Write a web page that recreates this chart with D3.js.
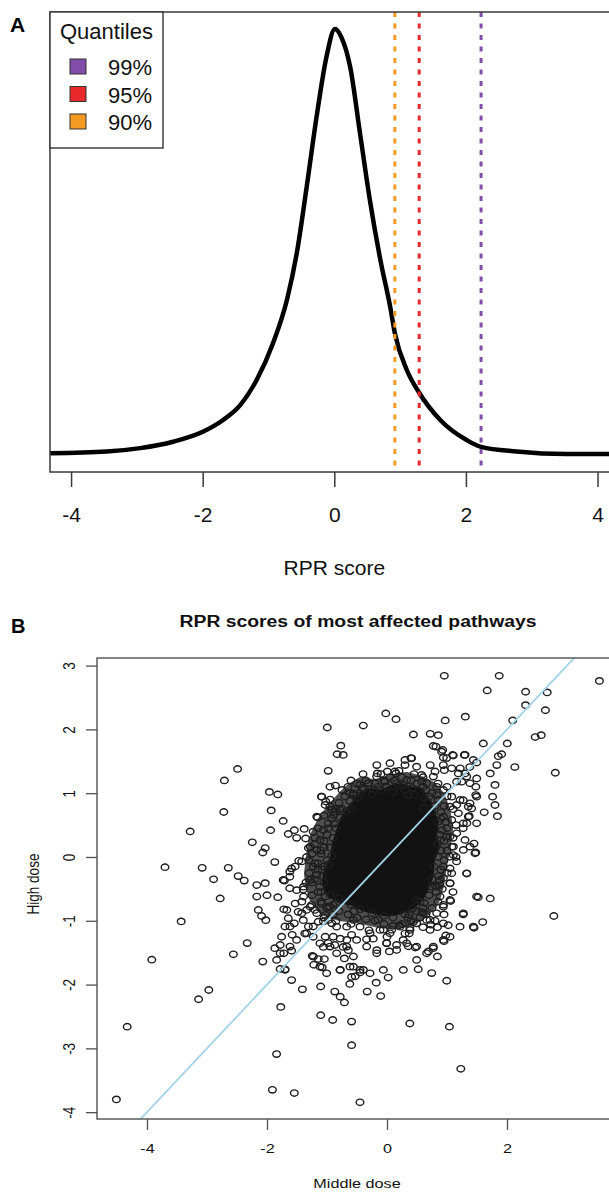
<!DOCTYPE html>
<html>
<head>
<meta charset="utf-8">
<script src="https://cdn.jsdelivr.net/npm/d3@7"></script>
<style>
  body { margin: 0; background: #fff; }
  svg { display: block; font-family: "Liberation Sans", Arial, Helvetica, sans-serif; }
</style>
</head>
<body>
<div id="chart"></div>
<script>
// ---------- panel A data: density of RPR score (relative height)
var densityX = [-4.32, -3.46, -2.95, -2.45, -1.99, -1.69, -1.43, -1.18, -0.93, -0.72, -0.57, -0.42,
  -0.27, -0.12, 0.01, 0.11, 0.24, 0.39, 0.54, 0.70, 0.85, 0.92, 1.10, 1.29, 1.61, 2.01, 2.23, 2.77, 3.53, 4.32];
var densityY = [0.004, 0.008, 0.016, 0.031, 0.055, 0.082, 0.117, 0.176, 0.263, 0.364, 0.474, 0.629,
  0.793, 0.934, 1.0, 0.98, 0.912, 0.756, 0.599, 0.458, 0.347, 0.286, 0.200, 0.146, 0.082, 0.035, 0.019, 0.008, 0.002, 0.002];

var quantileLabels = ["99%", "95%", "90%"];
var quantileValues = [2.23, 1.29, 0.92];
var quantileColors = ["#814da9", "#e8292c", "#f59a23"];
var xTicksA = [-4, -2, 0, 2, 4];

// ---------- panel B data: middle dose (x) vs high dose (y)
var xTicksB = [-4, -2, 0, 2];
var yTicksB = [-4, -3, -2, -1, 0, 1, 2, 3];
var diagonal = [[-5, -5], [4, 4]];

// outline of the crowded zone, where circles overlap heavily
var crowdedZone = [[-1.3, 0.3], [-1.15, 0.6], [-0.95, 0.85], [-0.7, 1.1], [-0.45, 1.25], [-0.2, 1.22], [0.1, 1.3],
  [0.35, 1.33], [0.6, 1.26], [0.8, 1.16], [0.95, 1.0], [1.05, 0.75], [1.1, 0.45], [1.06, 0.15], [1.0, -0.15],
  [0.95, -0.45], [0.85, -0.75], [0.65, -0.95], [0.4, -1.08], [0.1, -1.13], [-0.2, -1.1], [-0.5, -1.04],
  [-0.8, -1.0], [-1.1, -0.9], [-1.3, -0.65], [-1.38, -0.3], [-1.35, 0.0]];

// outline of the solid, fully overplotted centre
var denseCore = [[-0.6, 0.85], [-0.45, 1.0], [-0.3, 1.08], [-0.12, 1.05], [0.05, 1.12], [0.25, 1.15], [0.42, 1.1],
  [0.58, 1.08], [0.7, 0.92], [0.78, 0.75], [0.86, 0.55], [0.84, 0.35], [0.88, 0.15], [0.8, -0.05], [0.78, -0.28],
  [0.7, -0.5], [0.58, -0.7], [0.42, -0.82], [0.22, -0.9], [0.02, -0.93], [-0.18, -0.9], [-0.4, -0.85], [-0.6, -0.76],
  [-0.8, -0.72], [-1.0, -0.6], [-1.08, -0.4], [-1.05, -0.2], [-0.95, 0.0], [-0.92, 0.2], [-0.86, 0.38], [-0.78, 0.6],
  [-0.7, 0.72]];

var pointsLeftTop = [[-0.995, 2.03], [-0.77, 1.745], [-0.83, 1.61], [-0.73, 1.60], [-0.98, 1.35], [-2.49, 1.38],
  [-2.71, 1.20], [-0.95, 1.10], [-0.86, 1.12], [-1.96, 1.02], [-1.82, 0.98], [-0.56, 0.97], [-1.09, 0.945],
  [-1.02, 0.87], [-0.95, 0.79], [-0.87, 0.71], [-0.76, 0.76], [-0.60, 0.75], [-2.72, 0.705], [-1.93, 0.73],
  [-1.155, 0.62], [-1.73, 0.565], [-3.28, 0.40], [-1.94, 0.42], [-1.645, 0.36], [-1.545, 0.42], [-1.505, 0.30],
  [-1.38, 0.44], [-1.355, 0.29], [-2.245, 0.23], [-2.03, 0.14], [-2.07, 0.07], [-1.87, -0.08], [-3.70, -0.16],
  [-3.08, -0.17], [-2.645, -0.17], [-2.89, -0.35], [-2.48, -0.30], [-2.38, -0.37], [-2.17, -0.44], [-2.03, -0.41],
  [-1.71, -0.37], [-1.62, -0.31], [-1.59, -0.18], [-1.47, -0.06], [-1.505, -0.52], [-1.395, -0.51], [-1.31, 0.14],
  [-1.25, 0.05], [-1.2, -0.1], [-1.15, -0.2], [-1.3, -0.25], [-1.25, -0.4], [-1.1, 0.1], [-1.05, 0.25], [-1.2, 0.3]];

var pointsLeftBottom = [[-2.78, -0.65], [-2.17, -0.62], [-2.0, -0.60], [-1.82, -0.63], [-2.145, -0.83], [-2.09, -0.925],
  [-2.02, -0.99], [-3.43, -1.01], [-1.72, -0.82], [-1.645, -0.96], [-1.545, -1.04], [-1.70, -1.09], [-1.58, -1.22],
  [-2.33, -1.35], [-2.56, -1.525], [-3.92, -1.61], [-2.07, -1.64], [-1.87, -1.43], [-1.78, -1.38], [-1.72, -1.51],
  [-1.59, -1.47], [-1.78, -1.755], [-1.70, -1.76], [-1.59, -1.93], [-1.41, -2.075], [-2.97, -2.085], [-3.14, -2.23],
  [-1.77, -2.35], [-4.33, -2.66], [-1.105, -2.48], [-0.905, -2.555], [-1.105, -2.03], [-0.87, -2.11], [-0.78, -2.19],
  [-0.71, -2.28], [-0.62, -1.99], [-0.78, -1.77], [-0.59, -2.58], [-0.59, -2.95], [-1.84, -3.09], [-1.91, -3.65],
  [-1.545, -3.70], [-4.51, -3.80], [-1.245, -1.55], [-1.145, -1.60], [-1.08, -1.73], [-1.22, -1.69], [-1.045, -1.60],
  [-0.71, -1.59], [-0.56, -1.72], [-1.42, -0.70], [-1.34, -0.83], [-1.255, -0.75], [-1.48, -0.86], [-1.395, -0.99],
  [-1.31, -1.09], [-1.37, -1.20], [-1.23, -1.25], [-1.145, -1.015], [-1.03, -0.91], [-0.92, -1.04], [-1.03, -1.25],
  [-0.895, -1.25], [-0.78, -1.28], [-0.67, -1.30], [-0.59, -1.22], [-0.87, -1.38], [-0.98, -1.35], [-1.06, -1.41],
  [-0.73, -1.41], [-0.645, -1.46], [-1.2, -0.83], [-1.09, -0.73], [-0.98, -0.78], [-0.56, -1.56], [-0.59, -1.88]];

var pointsRightBottom = [[1.52, -0.63], [1.72, -0.65], [2.78, -0.925], [1.27, -0.90], [1.595, -1.02], [1.45, -1.11],
  [0.94, -0.75], [1.06, -0.69], [1.02, -1.07], [0.98, -1.23], [0.95, -1.32], [0.84, -1.10], [0.73, -1.06], [0.77, -1.43],
  [0.84, -1.56], [0.69, -1.48], [0.47, -1.42], [0.355, -1.40], [0.27, -1.30], [0.37, -1.20], [0.52, -1.76], [0.745, -1.82],
  [0.995, -1.94], [0.02, -1.89], [-0.18, -1.97], [-0.33, -2.11], [-0.105, -2.18], [-0.395, -1.77], [-0.45, -1.81],
  [-0.53, -1.87], [0.38, -2.61], [1.04, -2.66], [1.23, -3.32], [-0.45, -3.845], [-0.17, -1.46], [0.04, -1.48],
  [0.16, -1.38], [-0.005, -1.35], [-0.34, -1.29], [-0.23, -1.28], [-0.06, -1.14], [0.08, -1.14], [0.205, -1.07],
  [0.38, -1.11], [0.44, -1.02], [0.37, -0.91], [0.43, -0.805], [0.58, -0.86], [0.62, -0.72], [0.495, -0.675]];

var pointsRightTop = [[0.955, 2.84], [1.87, 2.84], [3.54, 2.76], [1.67, 2.61], [2.31, 2.59], [2.67, 2.58], [2.31, 2.38],
  [2.64, 2.30], [-0.02, 2.25], [0.15, 2.16], [-0.395, 2.06], [0.97, 2.14], [1.305, 2.20], [2.095, 2.14], [0.44, 1.92],
  [0.72, 1.93], [0.855, 1.91], [2.47, 1.88], [2.57, 1.91], [1.605, 1.78], [2.005, 1.78], [0.815, 1.73], [0.91, 1.65],
  [1.855, 1.58], [1.91, 1.61], [2.13, 1.41], [2.805, 1.32], [1.3, 1.60], [1.105, 1.59], [0.995, 1.55], [1.72, 1.31],
  [1.83, 1.44], [1.495, 1.48], [1.38, 1.41], [1.495, 1.23], [1.30, 1.31], [1.8, 1.13], [1.76, 0.945], [1.8, 0.815],
  [1.62, 0.70], [1.84, 0.64], [1.48, 0.97], [1.48, 1.10], [1.41, 0.76], [1.37, 0.64], [1.33, 0.53], [1.27, 0.45],
  [1.45, 0.21], [1.48, 0.07], [1.33, -0.26], [1.05, 0.32], [1.08, 0.16], [1.105, 0.03], [1.16, -0.07], [1.05, -0.18],
  [0.88, -0.44], [1.05, -0.41], [0.745, -0.465], [0.94, -0.33], [-0.17, 1.44], [-0.16, 1.31], [0.05, 1.47], [0.13, 1.34],
  [0.3, 1.44], [0.40, 1.55], [-0.31, 1.155], [-0.395, 1.075], [-0.55, 0.97], [0.72, 1.44], [0.8, 1.34], [0.955, 1.36],
  [1.22, 1.39], [1.16, 1.18], [1.0, 1.10], [0.58, 1.18], [0.27, 1.13], [-0.005, 1.10], [0.355, 0.97], [0.83, 0.97],
  [1.27, 0.89], [1.16, 0.815], [1.355, 0.79], [0.605, 0.76]];

// the crowded ring just outside the solid centre
var pointsRing = [[-1.28, 0.16], [-1.17, 0.11], [-1.34, 0.0], [-1.42, -0.07], [-1.53, -0.15], [-1.62, -0.23],
  [-1.73, -0.36], [-1.62, -0.49], [-1.39, -0.465], [-1.28, -0.36], [-1.17, -0.28], [-1.12, -0.465], [-1.39, -0.62],
  [-1.53, -0.73], [-1.67, -0.83], [-1.42, -0.88], [-1.28, -0.78], [-1.17, -0.88], [-1.06, -1.01], [-1.23, -1.09],
  [-1.34, -1.196], [-1.506, -1.30], [-1.617, -1.405], [-1.78, -1.51], [-1.117, 0.267], [-1.06, 0.423], [-1.23, 0.397],
  [-0.978, 0.528], [-0.894, 0.658], [-1.03, 0.815], [-1.17, 0.632], [-1.09, 0.946], [-0.783, 0.737], [-0.922, 0.737],
  [-1.23, -0.15], [-1.06, -0.15], [-1.03, -0.62], [-0.95, -0.78],
  [-0.561, 0.998], [-0.45, 0.956], [-0.311, 1.155], [-0.228, 1.05], [-0.45, 1.13], [0.15, 1.31], [0.006, 1.34],
  [0.30, 1.52], [0.41, 1.547], [0.494, 1.416], [0.578, 1.285], [0.328, 1.207], [0.161, 1.155], [-0.033, 1.18],
  [-0.172, 1.26], [0.661, 1.155], [0.772, 1.26], [0.828, 1.10], [0.939, 1.44], [1.078, 1.39], [0.939, 1.56],
  [1.094, 1.599], [1.289, 1.599], [0.772, 1.74], [0.928, 1.677], [1.189, 1.31], [1.328, 1.26], [1.383, 1.155],
  [1.244, 1.18], [1.439, 1.52],
  [0.939, 1.05], [1.078, 0.946], [1.217, 0.894], [1.383, 0.841], [1.494, 0.946], [1.05, 0.789], [1.189, 0.685],
  [1.356, 0.632], [1.494, 0.528], [1.272, 0.528], [1.078, 0.58], [0.939, 0.632], [0.883, 0.267], [0.994, 0.319],
  [1.161, 0.371], [1.30, 0.267], [1.383, 0.162], [1.467, 0.058], [1.272, 0.11], [1.106, 0.162], [1.05, 0.005],
  [0.939, -0.151], [1.078, -0.256], [1.328, -0.256], [0.883, -0.36], [0.828, -0.465], [1.05, -0.413], [0.883, -0.62],
  [1.05, -0.674], [0.939, -0.78], [1.272, -0.883], [1.439, -1.092], [1.217, -1.092], [1.05, -1.25], [0.828, -0.883],
  [0.717, -0.987], [1.494, -0.62],
  [-0.978, -0.987], [-0.839, -1.092], [-0.672, -1.092], [-0.561, -0.987], [-0.45, -1.092], [-0.283, -1.196],
  [-0.117, -1.144], [0.05, -1.196], [0.217, -1.092], [0.383, -1.144], [0.494, -1.04], [0.661, -0.987], [0.717, -1.144],
  [0.939, -1.04], [0.939, -1.30], [0.772, -1.405], [0.661, -1.51], [0.494, -1.405], [0.328, -1.353], [0.161, -1.457],
  [-0.006, -1.353], [-0.172, -1.51], [-0.339, -1.405], [-0.506, -1.30], [-0.672, -1.405], [-0.839, -1.51],
  [-0.95, -1.405], [-1.117, -1.353], [-1.228, -1.562], [-1.117, -1.719], [-1.006, -1.823], [-0.783, -1.771],
  [-0.617, -1.719], [-0.45, -1.771], [-0.283, -1.823], [-0.061, -1.771], [0.272, -1.771], [0.494, -1.614],
  [-1.70, -1.77], [-1.839, -1.614], [-1.617, -1.09], [-1.756, -1.25]];

// circles sitting on the edge of the solid centre
var pointsCoreEdge = [[-0.62, 0.88], [-0.45, 1.0], [-0.25, 0.98], [-0.1, 1.05], [0.1, 1.02], [0.3, 1.05], [0.45, 0.98],
  [0.62, 0.92], [0.75, 0.7], [0.85, 0.55], [0.88, 0.35], [0.84, 0.2], [0.85, 0.0], [0.78, -0.15], [0.75, -0.35],
  [0.7, -0.6], [0.55, -0.7], [0.5, -0.85], [0.3, -0.9], [0.1, -0.95], [-0.05, -0.92], [-0.25, -0.88], [-0.45, -0.82],
  [-0.6, -0.75], [-0.8, -0.65], [-0.95, -0.6], [-1.05, -0.4], [-1.08, -0.2], [-1.0, -0.05], [-0.95, 0.15], [-0.9, 0.3],
  [-0.85, 0.45], [-0.78, 0.62], [-0.68, 0.72], [-0.5, 0.92], [0.6, 1.1], [0.7, 0.95], [0.92, 0.42], [0.9, 0.1],
  [-1.1, -0.55], [-0.9, -0.75], [0.6, -0.8], [0.8, -0.45]];

// thick halo of overlapping circles around the centre
var pointsHalo = [[-0.7, 0.95], [-0.8, 0.85], [-0.65, 1.1], [-0.5, 1.15], [-0.35, 1.2], [-0.2, 1.15], [-0.05, 1.2],
  [0.12, 1.2], [0.25, 1.25], [0.4, 1.2], [0.5, 1.15], [0.65, 1.05], [0.75, 1.0], [0.85, 0.9], [0.95, 0.8], [0.9, 0.7],
  [0.98, 0.55], [1.0, 0.45], [0.95, 0.25], [1.0, 0.1], [0.95, -0.05], [0.9, -0.2], [0.92, -0.5], [0.85, -0.7],
  [0.75, -0.8], [0.65, -0.9], [0.55, -0.95], [0.4, -1.0], [0.25, -1.05], [0.1, -1.08], [-0.05, -1.05], [-0.2, -1.0],
  [-0.35, -0.98], [-0.5, -0.95], [-0.65, -0.9], [-0.8, -0.85], [-0.9, -0.9], [-1.0, -0.8], [-1.1, -0.7], [-1.15, -0.55],
  [-1.2, -0.35], [-1.15, -0.1], [-1.1, 0.05], [-1.05, 0.15], [-1.0, 0.35], [-0.98, 0.45], [-0.92, 0.6], [-0.85, 0.75],
  [-0.75, 1.05], [-0.6, 1.2], [-0.4, 1.3], [-0.1, 1.3], [0.05, 1.25], [0.2, 1.35], [0.45, 1.3], [0.6, 1.25],
  [0.85, 1.15], [1.0, 0.95], [1.1, 0.75], [1.15, 0.5], [1.1, 0.3], [1.15, 0.0], [1.0, -0.25], [1.1, -0.55],
  [0.95, -0.9], [0.8, -1.0], [0.6, -1.1], [0.3, -1.2], [0.0, -1.25], [-0.3, -1.15], [-0.6, -1.05], [-0.85, -1.0],
  [-1.05, -0.95], [-1.25, -0.6], [-1.35, -0.4], [-1.3, -0.05], [-1.2, 0.2], [-1.15, 0.45], [-1.05, 0.65], [-0.95, 0.9],
  [-0.62, 1.0], [-0.42, 1.08], [-0.15, 1.1], [0.2, 1.12], [0.42, 1.08], [0.68, 0.85], [0.8, 0.8], [0.9, 0.6],
  [0.86, -0.3], [0.82, -0.55], [0.6, -0.88], [0.35, -0.95], [-0.15, -0.98], [-0.55, -0.85], [-0.85, -0.72],
  [-1.07, -0.3], [-0.98, -0.12], [-0.92, 0.02], [-0.88, 0.52]];

var W = 609, H = 1192;
var fmt = function(d) { return String(d); };   // plain hyphen minus like R

var svg = d3.select("#chart").append("svg")
  .attr("width", W)
  .attr("height", H);

// =============== Panel A ===============
var boxA = {left: 50, top: 12, right: 618.6, bottom: 472};
var xA = d3.scaleLinear().domain([-4.32, 4.32]).range([boxA.left, boxA.right]);
var yA = d3.scaleLinear().domain([-0.04, 1.04]).range([boxA.bottom, boxA.top]);

svg.append("clipPath").attr("id", "clipA")
  .append("rect")
    .attr("x", boxA.left).attr("y", boxA.top)
    .attr("width", boxA.right - boxA.left).attr("height", boxA.bottom - boxA.top);

var gA = svg.append("g").attr("clip-path", "url(#clipA)");

var densityPts = densityX.map(function(d, i) { return [d, densityY[i]]; });
gA.append("path")
  .datum(densityPts)
  .attr("fill", "none")
  .attr("stroke", "#000")
  .attr("stroke-width", 4.5)
  .attr("stroke-linejoin", "round")
  .attr("d", d3.line()
    .x(function(d) { return xA(d[0]); })
    .y(function(d) { return yA(d[1]); })
    .curve(d3.curveMonotoneX));

// quantile lines
gA.selectAll(".qline")
  .data(quantileValues)
  .enter().append("line")
    .attr("x1", function(d) { return xA(d); })
    .attr("x2", function(d) { return xA(d); })
    .attr("y1", yA(1.04))
    .attr("y2", yA(-0.04))
    .attr("stroke", function(d, i) { return quantileColors[i]; })
    .attr("stroke-width", 3)
    .attr("stroke-dasharray", "5,6.5");

// box
svg.append("rect")
  .attr("x", boxA.left).attr("y", boxA.top)
  .attr("width", boxA.right - boxA.left).attr("height", boxA.bottom - boxA.top)
  .attr("fill", "none").attr("stroke", "#3a3a3a").attr("stroke-width", 1.5);

// x axis
var axA = svg.append("g")
  .attr("transform", "translate(0," + boxA.bottom + ")")
  .call(d3.axisBottom(xA).tickValues(xTicksA).tickFormat(fmt).tickSize(15).tickPadding(20));
axA.select(".domain").remove();
axA.selectAll(".tick line").attr("stroke", "#3a3a3a").attr("stroke-width", 1.5);
axA.selectAll(".tick text")
  .attr("font-size", 21).attr("fill", "#111")
  .attr("font-family", "'Liberation Sans', Arial, sans-serif");

svg.append("text")
  .attr("x", (boxA.left + boxA.right) / 2).attr("y", 575)
  .attr("text-anchor", "middle").attr("font-size", 21).attr("fill", "#111")
  .text("RPR score");

svg.append("text")
  .attr("x", 10).attr("y", 32)
  .attr("font-size", 21).attr("font-weight", "bold")
  .text("A");

// legend
var leg = svg.append("g");
leg.append("rect")
  .attr("x", 50).attr("y", 12).attr("width", 113).attr("height", 136)
  .attr("fill", "#fff").attr("stroke", "#333").attr("stroke-width", 1.4);
leg.append("text")
  .attr("x", 60).attr("y", 39).attr("font-size", 22).attr("fill", "#111")
  .text("Quantiles");
var legRow = leg.selectAll(".row")
  .data(quantileLabels)
  .enter().append("g")
    .attr("transform", function(d, i) { return "translate(0," + (i * 27.5) + ")"; });
legRow.append("rect")
  .attr("x", 70).attr("y", 59).attr("width", 16).attr("height", 15)
  .attr("fill", function(d, i) { return quantileColors[i]; })
  .attr("stroke", "#333").attr("stroke-width", 1);
legRow.append("text")
  .attr("x", 108).attr("y", 75).attr("font-size", 22).attr("fill", "#111")
  .text(function(d) { return d; });

// =============== Panel B ===============
var boxB = {left: 97, top: 658, right: 623, bottom: 1119};
var xB = d3.scaleLinear().domain([-4.833, 3.933]).range([boxB.left, boxB.right]);
var yB = d3.scaleLinear().domain([-4.107, 3.119]).range([boxB.bottom, boxB.top]);
var stretch = "scale(1.2,1)";   // the figure is widened a bit horizontally

svg.append("clipPath").attr("id", "clipB")
  .append("rect")
    .attr("x", boxB.left).attr("y", boxB.top)
    .attr("width", boxB.right - boxB.left).attr("height", boxB.bottom - boxB.top);

var gB = svg.append("g").attr("clip-path", "url(#clipB)");

var areaLine = d3.line()
  .x(function(d) { return xB(d[0]); })
  .y(function(d) { return yB(d[1]); })
  .curve(d3.curveCardinalClosed.tension(0.4));

// crowded zone and solid centre of overplotted circles
gB.append("path").datum(crowdedZone)
  .attr("fill", "#4e4e4e")
  .attr("d", areaLine);
gB.append("path").datum(denseCore)
  .attr("fill", "#121212")
  .attr("d", areaLine);

var allPoints = pointsLeftTop.concat(pointsLeftBottom, pointsRightBottom, pointsRightTop,
  pointsRing, pointsCoreEdge, pointsHalo);
gB.selectAll(".pt")
  .data(allPoints)
  .enter().append("ellipse")
    .attr("cx", function(d) { return xB(d[0]); })
    .attr("cy", function(d) { return yB(d[1]); })
    .attr("rx", 3.8)
    .attr("ry", 3.2)
    .attr("fill", "none")
    .attr("stroke", "#1e1e1e")
    .attr("stroke-width", 1.4);

// y = x reference line
gB.append("path")
  .datum(diagonal)
  .attr("fill", "none")
  .attr("stroke", "#a3d3e8")
  .attr("stroke-width", 1.8)
  .attr("d", d3.line()
    .x(function(d) { return xB(d[0]); })
    .y(function(d) { return yB(d[1]); }));

svg.append("rect")
  .attr("x", boxB.left).attr("y", boxB.top)
  .attr("width", boxB.right - boxB.left).attr("height", boxB.bottom - boxB.top)
  .attr("fill", "none").attr("stroke", "#505050").attr("stroke-width", 1.4);

// x axis
var axBx = svg.append("g")
  .attr("transform", "translate(0," + boxB.bottom + ")")
  .call(d3.axisBottom(xB).tickValues(xTicksB).tickFormat(fmt).tickSize(11).tickPadding(13));
axBx.select(".domain").remove();
axBx.selectAll(".tick line").attr("stroke", "#505050").attr("stroke-width", 1.3);
axBx.selectAll(".tick text")
  .attr("font-size", 13.5).attr("fill", "#111")
  .attr("font-family", "'Liberation Sans', Arial, sans-serif")
  .attr("transform", stretch);

// y axis, labels turned like R's default
var axBy = svg.append("g")
  .attr("transform", "translate(" + boxB.left + ",0)")
  .call(d3.axisLeft(yB).tickValues(yTicksB).tickFormat(fmt).tickSize(11));
axBy.select(".domain").remove();
axBy.selectAll(".tick line").attr("stroke", "#505050").attr("stroke-width", 1.3);
axBy.selectAll(".tick text")
  .attr("x", 0).attr("y", 0).attr("dy", 0)
  .attr("text-anchor", "middle")
  .attr("font-size", 13.5).attr("fill", "#111")
  .attr("font-family", "'Liberation Sans', Arial, sans-serif")
  .attr("transform", "translate(-22,0) " + stretch + " rotate(-90)");

svg.append("text")
  .attr("transform", "translate(" + ((boxB.left + boxB.right) / 2 - 3) + ",1188) " + stretch)
  .attr("text-anchor", "middle").attr("font-size", 13.5).attr("fill", "#111")
  .text("Middle dose");

svg.append("text")
  .attr("transform", "translate(39,884) " + stretch + " rotate(-90)")
  .attr("text-anchor", "middle").attr("font-size", 13.5).attr("fill", "#111")
  .text("High dose");

svg.append("text")
  .attr("x", 358).attr("y", 627)
  .attr("text-anchor", "middle").attr("font-size", 16).attr("font-weight", "bold").attr("fill", "#111")
  .attr("textLength", 357).attr("lengthAdjust", "spacingAndGlyphs")
  .text("RPR scores of most affected pathways");

svg.append("text")
  .attr("x", 11).attr("y", 633)
  .attr("font-size", 20).attr("font-weight", "bold")
  .text("B");
</script>
</body>
</html>
